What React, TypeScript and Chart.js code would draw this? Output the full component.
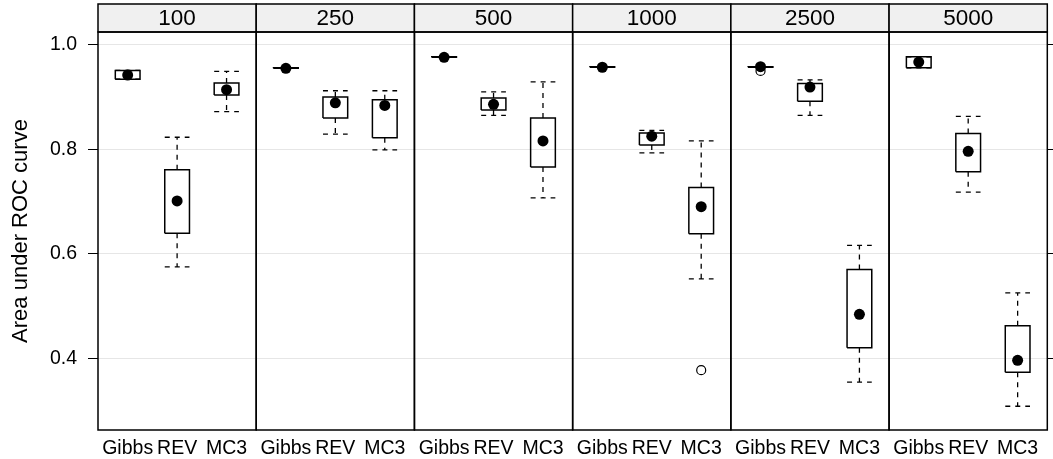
import { useEffect, useRef } from "react";
import { Chart, registerables } from "chart.js";

Chart.register(...registerables);

// Panels (sample size) and samplers within each panel
const sampleSizes = ["100", "250", "500", "1000", "2500", "5000"];
const samplers = ["Gibbs", "REV", "MC3"];

// Box-and-whisker summaries, ordered by sample size, then sampler
const whiskerLow = [0.934, 0.575, 0.872, 0.955, 0.829, 0.799, 0.976, 0.865, 0.707, 0.957, 0.793, 0.552, 0.957, 0.865, 0.354, 0.956, 0.718, 0.308];
const lowerHinge = [0.934, 0.639, 0.904, 0.955, 0.86, 0.822, 0.976, 0.875, 0.766, 0.957, 0.808, 0.638, 0.957, 0.892, 0.42, 0.956, 0.757, 0.373];
const medians = [0.942, 0.701, 0.914, 0.955, 0.889, 0.884, 0.976, 0.886, 0.816, 0.957, 0.825, 0.69, 0.958, 0.919, 0.484, 0.967, 0.796, 0.396];
const upperHinge = [0.951, 0.761, 0.927, 0.956, 0.9, 0.895, 0.977, 0.898, 0.86, 0.958, 0.831, 0.727, 0.958, 0.926, 0.57, 0.977, 0.83, 0.462];
const whiskerHigh = [0.951, 0.823, 0.949, 0.956, 0.912, 0.912, 0.977, 0.91, 0.929, 0.958, 0.836, 0.816, 0.958, 0.933, 0.616, 0.977, 0.863, 0.525];

// Points beyond the whiskers
const outlierSizes = ["1000", "2500"];
const outlierSamplers = ["MC3", "Gibbs"];
const outlierValues = [0.377, 0.95];

const yTicks = [0.4, 0.6, 0.8, 1.0];
const yMin = 0.2625;
const yMax = 1.0245;

const PANEL_SPAN = samplers.length + 0.2; // each panel runs from 0.4 to n + 0.6
const BOX_HALF = 0.25;
const FONT = "'Liberation Sans', Arial, Helvetica, sans-serif";

Chart.defaults.font.family = FONT;
Chart.defaults.color = "#000";

const xOf = (panel: number, sampler: number) => panel * PANEL_SPAN + 0.6 + sampler;

type Pt = { x: number; y: number | null };

function buildBoxes() {
  const pts: Pt[] = [];
  sampleSizes.forEach((_, p) =>
    samplers.forEach((_, s) => {
      const i = p * samplers.length + s;
      const x = xOf(p, s);
      pts.push(
        { x: x - BOX_HALF, y: lowerHinge[i] },
        { x: x + BOX_HALF, y: lowerHinge[i] },
        { x: x + BOX_HALF, y: upperHinge[i] },
        { x: x - BOX_HALF, y: upperHinge[i] },
        { x: x - BOX_HALF, y: lowerHinge[i] },
        { x, y: null }
      );
    })
  );
  return pts;
}

function buildWhiskers() {
  const pts: Pt[] = [];
  sampleSizes.forEach((_, p) =>
    samplers.forEach((_, s) => {
      const i = p * samplers.length + s;
      const x = xOf(p, s);
      pts.push(
        { x, y: upperHinge[i] },
        { x, y: whiskerHigh[i] },
        { x, y: null },
        { x, y: lowerHinge[i] },
        { x, y: whiskerLow[i] },
        { x, y: null },
        { x: x - BOX_HALF, y: whiskerHigh[i] },
        { x: x + BOX_HALF, y: whiskerHigh[i] },
        { x, y: null },
        { x: x - BOX_HALF, y: whiskerLow[i] },
        { x: x + BOX_HALF, y: whiskerLow[i] },
        { x, y: null }
      );
    })
  );
  return pts;
}

function buildMedians() {
  const pts: Pt[] = [];
  sampleSizes.forEach((_, p) =>
    samplers.forEach((_, s) => {
      pts.push({ x: xOf(p, s), y: medians[p * samplers.length + s] });
    })
  );
  return pts;
}

function buildOutliers() {
  return outlierValues.map((v, k) => ({
    x: xOf(sampleSizes.indexOf(outlierSizes[k]), samplers.indexOf(outlierSamplers[k])),
    y: v,
  }));
}

const xTickValues = sampleSizes.flatMap((_, p) => samplers.map((_, s) => xOf(p, s)));

// Panel frames and strip headers
const panelPlugin = {
  id: "panelFrames",
  afterDatasetsDraw(chart: any) {
    const { ctx, chartArea, scales } = chart;
    const xs = scales.x;
    const stripH = 28;
    ctx.save();
    sampleSizes.forEach((label, p) => {
      const x0 = xs.getPixelForValue(p * PANEL_SPAN);
      const x1 = xs.getPixelForValue((p + 1) * PANEL_SPAN);
      ctx.fillStyle = "#f0f0f0";
      ctx.fillRect(x0, chartArea.top - stripH, x1 - x0, stripH);
      ctx.strokeStyle = "#000";
      ctx.lineWidth = 1.5;
      ctx.strokeRect(x0, chartArea.top - stripH, x1 - x0, stripH);
      ctx.strokeRect(x0, chartArea.top, x1 - x0, chartArea.bottom - chartArea.top);
      ctx.fillStyle = "#000";
      ctx.font = `22.5px ${FONT}`;
      ctx.textAlign = "center";
      ctx.textBaseline = "middle";
      ctx.fillText(label, (x0 + x1) / 2, chartArea.top - stripH / 2 + 1);
    });
    ctx.restore();
  },
};

export default function App() {
  const canvasRef = useRef<HTMLCanvasElement | null>(null);

  useEffect(() => {
    if (!canvasRef.current) return;
    const yAfterFit = (w: number) => (scale: any) => {
      scale.width = w;
      scale.paddingTop = 0;
      scale.paddingBottom = 0;
    };
    const chart = new Chart(canvasRef.current, {
      type: "line",
      data: {
        datasets: [
          {
            label: "median",
            data: buildMedians(),
            showLine: false,
            pointRadius: 5.5,
            pointBackgroundColor: "#000",
            pointBorderWidth: 0,
          },
          {
            label: "outlier",
            data: buildOutliers(),
            showLine: false,
            pointRadius: 4.5,
            pointBackgroundColor: "rgba(0,0,0,0)",
            pointBorderColor: "#000",
            pointBorderWidth: 1.2,
          },
          {
            label: "whiskers",
            data: buildWhiskers(),
            borderColor: "#000",
            borderWidth: 1.3,
            borderDash: [5, 5],
            pointRadius: 0,
            spanGaps: false,
          },
          {
            label: "boxes",
            data: buildBoxes(),
            borderColor: "#000",
            borderWidth: 1.5,
            pointRadius: 0,
            spanGaps: false,
          },
        ] as any,
      },
      options: {
        responsive: false,
        animation: false,
        events: [],
        layout: { padding: { top: 32, left: 0, right: 0, bottom: 0 } },
        plugins: { legend: { display: false }, tooltip: { enabled: false } },
        scales: {
          x: {
            type: "linear",
            min: 0,
            max: PANEL_SPAN * sampleSizes.length,
            grid: { display: false, drawTicks: false },
            border: { display: false },
            afterBuildTicks: (scale: any) => {
              scale.ticks = xTickValues.map((v) => ({ value: v }));
            },
            afterFit: (scale: any) => {
              scale.height = 29;
              scale.paddingLeft = 0;
              scale.paddingRight = 0;
            },
            ticks: {
              autoSkip: false,
              maxRotation: 0,
              padding: 7,
              font: { size: 19.5 },
              callback: (_v: any, i: number) => samplers[i % samplers.length],
            },
          },
          y: {
            type: "linear",
            position: "left",
            min: yMin,
            max: yMax,
            afterBuildTicks: (scale: any) => {
              scale.ticks = yTicks.map((v) => ({ value: v }));
            },
            afterFit: yAfterFit(98),
            grid: { color: "#e6e6e6", tickColor: "#000", tickLength: 10, lineWidth: 1 },
            border: { display: false },
            ticks: {
              padding: 11,
              font: { size: 19.5 },
              callback: (v: any) => Number(v).toFixed(1),
            },
            title: {
              display: true,
              text: "Area under ROC curve",
              font: { size: 22 },
              padding: { top: 8, bottom: 0 },
            },
          },
          y2: {
            type: "linear",
            position: "right",
            min: yMin,
            max: yMax,
            afterBuildTicks: (scale: any) => {
              scale.ticks = yTicks.map((v) => ({ value: v }));
            },
            afterFit: yAfterFit(5),
            grid: { drawOnChartArea: false, tickColor: "#000", tickLength: 10 },
            border: { display: false },
            ticks: { display: false },
          },
        },
      } as any,
      plugins: [panelPlugin],
    });
    return () => chart.destroy();
  }, []);

  return (
    <div style={{ position: "absolute", left: 0, top: 0, width: 1053, height: 459, background: "#fff" }}>
      <canvas ref={canvasRef} width={1053} height={459} style={{ display: "block" }} />
    </div>
  );
}
